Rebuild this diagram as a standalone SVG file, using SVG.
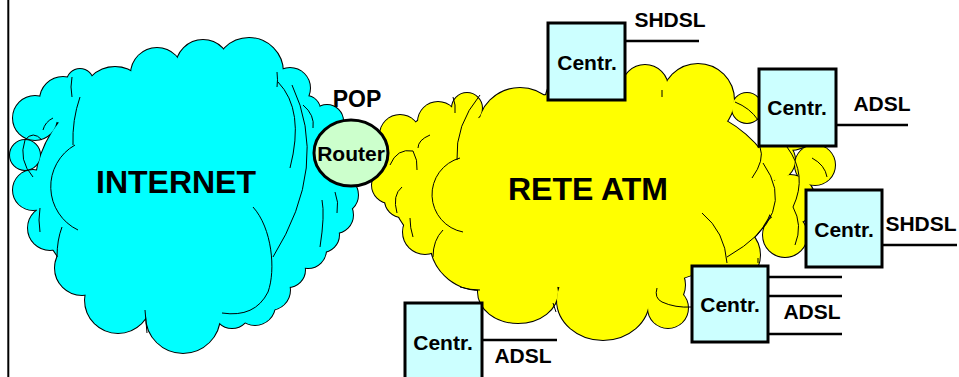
<svg xmlns="http://www.w3.org/2000/svg" xmlns:xlink="http://www.w3.org/1999/xlink" width="959" height="377" viewBox="0 0 959 377">
<style>
.cloud-out{stroke:#000;stroke-width:2}
.cloud-in{stroke:none}
.cyan{fill:#00ffff}
.yellow{fill:#ffff00}
.arc{fill:none;stroke:#000;stroke-width:1}
.box{fill:#ccffff;stroke:#000;stroke-width:3}
.link{stroke:#000;stroke-width:2.5;fill:none}
text{font-family:"Liberation Sans",Arial,Helvetica,sans-serif;font-weight:bold;fill:#000;text-anchor:middle}
.big{font-size:32px}
.lbl{font-size:21px}
</style>
<defs>
<g id="internet-lobes">
<circle cx="35" cy="118" r="22"/>
<circle cx="25" cy="155" r="15"/>
<circle cx="33" cy="190" r="20"/>
<circle cx="50" cy="228" r="22"/>
<circle cx="82" cy="268" r="27"/>
<circle cx="118" cy="300" r="33"/>
<circle cx="183" cy="316" r="37"/>
<circle cx="232" cy="310" r="18"/>
<circle cx="255" cy="305" r="20"/>
<circle cx="270" cy="290" r="20"/>
<circle cx="288" cy="270" r="17"/>
<circle cx="308" cy="250" r="18"/>
<circle cx="322" cy="235" r="17"/>
<circle cx="335" cy="215" r="18"/>
<circle cx="340" cy="195" r="18"/>
<circle cx="335" cy="150" r="25"/>
<circle cx="327" cy="121" r="16"/>
<circle cx="306" cy="110" r="14"/>
<circle cx="290" cy="88" r="20"/>
<circle cx="249" cy="72" r="34"/>
<circle cx="203" cy="67" r="27"/>
<circle cx="157" cy="74" r="26"/>
<circle cx="115" cy="100" r="33"/>
<circle cx="80" cy="82" r="13"/>
<circle cx="63" cy="100" r="23"/>
<ellipse cx="185" cy="190" rx="150" ry="125"/>
</g>
<g id="atm-lobes">
<circle cx="400" cy="135" r="20"/>
<circle cx="400" cy="160" r="18"/>
<circle cx="390" cy="185" r="18"/>
<circle cx="402" cy="200" r="17"/>
<circle cx="425" cy="232" r="22"/>
<circle cx="480" cy="240" r="50"/>
<ellipse cx="450" cy="180" rx="60" ry="70"/>
<circle cx="438" cy="122" r="20"/>
<circle cx="467" cy="108" r="15"/>
<circle cx="520" cy="130" r="42"/>
<circle cx="590" cy="105" r="45"/>
<circle cx="645" cy="88" r="23"/>
<circle cx="698" cy="100" r="36"/>
<circle cx="747" cy="108" r="15"/>
<circle cx="790" cy="120" r="30"/>
<circle cx="775" cy="160" r="20"/>
<circle cx="815" cy="165" r="20"/>
<circle cx="790" cy="200" r="25"/>
<circle cx="785" cy="235" r="22"/>
<circle cx="730" cy="255" r="30"/>
<circle cx="660" cy="285" r="25"/>
<circle cx="668" cy="308" r="20"/>
<ellipse cx="603" cy="300" rx="46" ry="40"/>
<ellipse cx="518" cy="292" rx="40" ry="31"/>
<ellipse cx="600" cy="190" rx="175" ry="100"/>
</g>
</defs>

<line x1="8.3" y1="0" x2="8.3" y2="377" stroke="#000" stroke-width="2"/>

<g id="atm-cloud">
<use xlink:href="#atm-lobes" class="cloud-out yellow"/>
<use xlink:href="#atm-lobes" class="cloud-in yellow"/>
<path class="arc" d="M430,135 Q418,140 418,148"/>
<path class="arc" d="M453,97 Q456,105 455,113"/>
<path class="arc" d="M480,95 Q455,125 457,160"/>
<path class="arc" d="M460,158 A38,38 0 0 0 463,232"/>
<path class="arc" d="M390,165 Q397,148 413,151 Q418,160 417,170"/>
<path class="arc" d="M402,187 Q392,195 397,213"/>
<path class="arc" d="M410,218 Q410,228 413,237"/>
<path class="arc" d="M443,230 Q433,240 433,257"/>
<path class="arc" d="M460,287 Q470,290 480,290"/>
<path class="arc" d="M662,90 L662,97"/>
<path class="arc" d="M735,102 Q750,108 758,120"/>
<path class="arc" d="M760,147 Q765,160 752,178"/>
<path class="arc" d="M763,163 Q800,215 727,257"/>
<path class="arc" d="M787,147 Q808,175 793,207"/>
<path class="arc" d="M793,207 Q803,225 795,245"/>
<path class="arc" d="M812,158 Q825,165 827,177"/>
<path class="arc" d="M702,213 Q725,232 727,263"/>
<path class="arc" d="M758,258 L758,263"/>
<path class="arc" d="M657,288 Q654,298 662,302 Q675,308 692,307"/>
<path class="arc" d="M553,303 L556,312"/>
</g>

<g id="internet-cloud">
<use xlink:href="#internet-lobes" class="cloud-out cyan"/>
<use xlink:href="#internet-lobes" class="cloud-in cyan"/>
<path class="arc" d="M80,97 Q72,120 73,145"/>
<path class="arc" d="M72,77 Q70,87 72,97"/>
<path class="arc" d="M53,118 Q45,122 43,130"/>
<path class="arc" d="M33,177 Q18,160 25,140 Q33,130 42,140"/>
<path class="arc" d="M75,145 A48,48 0 0 0 78,230"/>
<path class="arc" d="M40,208 Q38,220 40,232"/>
<path class="arc" d="M62,227 Q57,240 57,257"/>
<path class="arc" d="M145,310 Q146,322 147,333"/>
<path class="arc" d="M277,72 Q278,80 277,87"/>
<path class="arc" d="M278,82 Q305,110 290,168"/>
<path class="arc" d="M292,85 Q330,165 273,257"/>
<path class="arc" d="M253,207 C272,228 276,270 268,292 Q255,318 222,313"/>
<path class="arc" d="M303,105 Q315,115 313,128"/>
<path class="arc" d="M322,200 Q325,215 320,247"/>
<path class="arc" d="M335,192 Q339,202 337,213"/>
</g>

<g id="router">
<ellipse cx="351" cy="153" rx="37" ry="33" fill="#ccffcc" stroke="#000" stroke-width="3"/>
<text class="lbl" x="351" y="161">Router</text>
</g>
<g id="pop-label"><text x="357" y="107" style="font-size:23px">POP</text></g>

<g id="internet-label"><text class="big" x="176" y="193">INTERNET</text></g>
<g id="atm-label"><text class="big" x="588" y="200">RETE ATM</text></g>

<g id="connectors">
<line class="link" x1="625" y1="41" x2="699" y2="41"/>
<line class="link" x1="833" y1="125" x2="908" y2="125"/>
<line class="link" x1="882" y1="245" x2="957" y2="245"/>
<line class="link" x1="768" y1="277" x2="842" y2="277"/>
<line class="link" x1="768" y1="296" x2="842" y2="296"/>
<line class="link" x1="768" y1="334" x2="842" y2="334"/>
<line class="link" x1="482" y1="340" x2="557" y2="340"/>
</g>

<g id="centr1">
<rect class="box" x="548" y="23" width="77" height="77"/>
<text class="lbl" x="587" y="70">Centr.</text>
</g>
<g id="centr2">
<rect class="box" x="759" y="69" width="77" height="77"/>
<text class="lbl" x="797" y="115">Centr.</text>
</g>
<g id="centr3">
<rect class="box" x="806" y="190" width="76" height="77"/>
<text class="lbl" x="844" y="237">Centr.</text>
</g>
<g id="centr4">
<rect class="box" x="692" y="266" width="76" height="76"/>
<text class="lbl" x="730" y="312">Centr.</text>
</g>
<g id="centr5">
<rect class="box" x="405" y="303" width="77" height="77"/>
<text class="lbl" x="443" y="350">Centr.</text>
</g>

<g id="line-labels">
<text class="lbl" x="670" y="27">SHDSL</text>
<text class="lbl" x="882" y="111">ADSL</text>
<text class="lbl" x="921" y="231">SHDSL</text>
<text class="lbl" x="812" y="319">ADSL</text>
<text class="lbl" x="523" y="363">ADSL</text>
</g>
</svg>
